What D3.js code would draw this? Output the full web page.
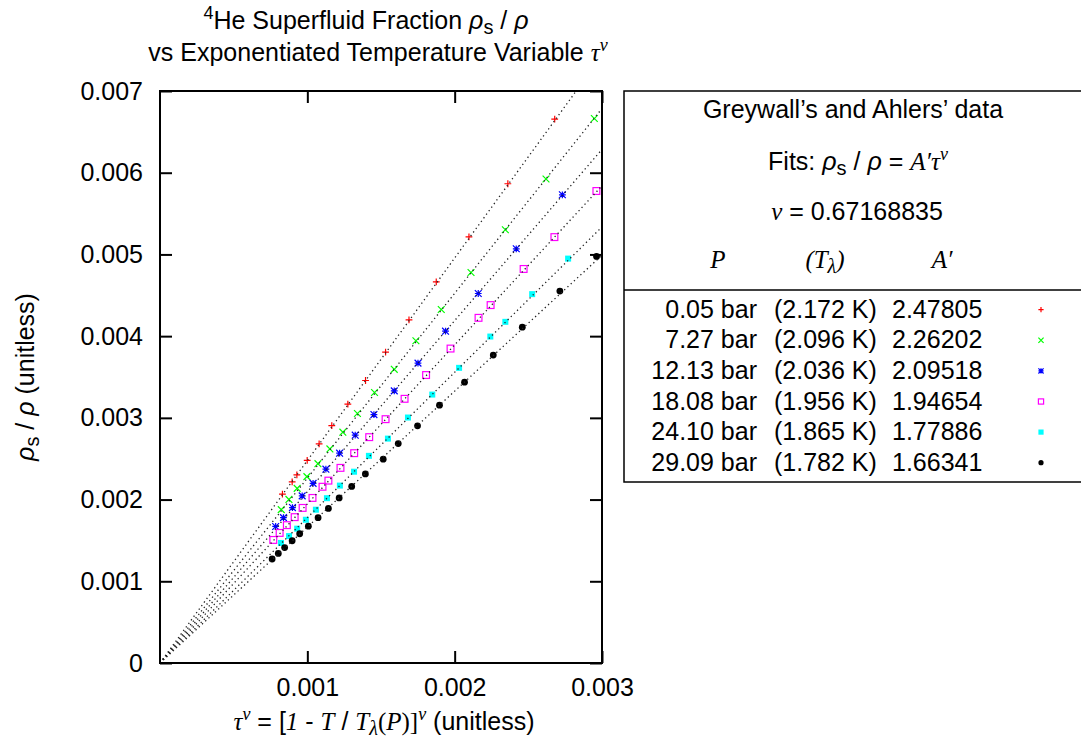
<!DOCTYPE html>
<html><head><meta charset="utf-8">
<script src="https://cdn.jsdelivr.net/npm/d3@7"></script>
<style>
body{margin:0;background:#fff;}
svg{display:block;}
text{font-family:"Liberation Sans",Arial,sans-serif;fill:#000;}
</style></head>
<body>
<script>
// ---- data ----
const pressures = ["0.05 bar","7.27 bar","12.13 bar","18.08 bar","24.10 bar","29.09 bar"];
const tLambdas  = ["(2.172 K)","(2.096 K)","(2.036 K)","(1.956 K)","(1.865 K)","(1.782 K)"];
const aPrimes   = [2.47805, 2.26202, 2.09518, 1.94654, 1.77886, 1.66341];
const seriesColors = ["#ff0000","#00ff00","#0000ff","#ff00ff","#00ffff","#000000"];
const seriesSymbols = ["plus","cross","star","box","fbox","circle"];
const nu = 0.67168835;

const tau0 = [0.002679,0.002361,0.002097,0.001875,0.001690,0.001531,0.001395,0.001275,0.001166,0.001080,0.000999,0.000929,0.000897,0.000831];
const rho0 = [0.006657,0.005865,0.005216,0.004665,0.004200,0.003804,0.003457,0.003168,0.002906,0.002682,0.002480,0.002302,0.002216,0.002066];

const tau1 = [0.002948,0.002620,0.002344,0.002111,0.001909,0.001737,0.001590,0.001456,0.001340,0.001241,0.001153,0.001072,0.000997,0.000931,0.000875,0.000823];
const rho1 = [0.006663,0.005923,0.005302,0.004779,0.004326,0.003943,0.003594,0.003310,0.003053,0.002825,0.002620,0.002439,0.002281,0.002137,0.002002,0.001877];

const tau2 = [0.002731,0.002418,0.002160,0.001938,0.001751,0.001590,0.001452,0.001325,0.001219,0.001126,0.001039,0.000965,0.000899,0.000838,0.000785];
const rho2 = [0.005730,0.005069,0.004522,0.004061,0.003670,0.003330,0.003040,0.002788,0.002568,0.002372,0.002198,0.002045,0.001902,0.001779,0.001671];

const tau3 = [0.002962,0.002677,0.002468,0.002244,0.002162,0.001972,0.001806,0.001660,0.001531,0.001420,0.001318,0.001225,0.001143,0.001103,0.001035,0.000968,0.000914,0.000861,0.000812,0.000769];
const rho3 = [0.005776,0.005212,0.004822,0.004380,0.004224,0.003848,0.003524,0.003233,0.002984,0.002764,0.002568,0.002388,0.002232,0.002157,0.002020,0.001898,0.001785,0.001687,0.001592,0.001506];

const tau4 = [0.002770,0.002526,0.002344,0.002242,0.002030,0.001848,0.001683,0.001547,0.001418,0.001317,0.001221,0.001133,0.001058,0.000990,0.000931,0.000876,0.000821];
const rho4 = [0.004949,0.004514,0.004175,0.003995,0.003612,0.003285,0.003004,0.002746,0.002535,0.002341,0.002171,0.002017,0.001876,0.001753,0.001644,0.001553,0.001469];

const tau5 = [0.002963,0.002714,0.002459,0.002262,0.002067,0.001897,0.001748,0.001617,0.001515,0.001394,0.001301,0.001216,0.001143,0.001073,0.001007,0.000948,0.000897,0.000846,0.000803,0.000761];
const rho5 = [0.004975,0.004551,0.004110,0.003768,0.003437,0.003155,0.002902,0.002685,0.002494,0.002314,0.002161,0.002020,0.001892,0.001779,0.001675,0.001582,0.001496,0.001412,0.001341,0.001273];

const xTicks = [0.001, 0.002, 0.003];
const yTicks = [0, 0.001, 0.002, 0.003, 0.004, 0.005, 0.006, 0.007];

const taus = [tau0,tau1,tau2,tau3,tau4,tau5];
const rhos = [rho0,rho1,rho2,rho3,rho4,rho5];

// ---- layout ----
const W = 1081, H = 745;
const L = 160, R = 602, T = 91, B = 663;
const FS = 25;

const svg = d3.select("body").append("svg").attr("width", W).attr("height", H);

const x = d3.scaleLinear().domain([0, 0.003]).range([L, R]);
const y = d3.scaleLinear().domain([0, 0.007]).range([B, T]);

// rich text helper
function rich(sel, segs, baseSize) {
  let off = 0;
  segs.forEach(s => {
    const t = sel.append("tspan").text(s.t);
    let fs = baseSize, target = 0;
    if (s.sh === "sup") { fs = baseSize * 0.72; target = -baseSize * 0.42; }
    if (s.sh === "sub") { fs = baseSize * 0.8; target = baseSize * 0.2; }
    t.attr("font-size", fs);
    if (target !== off) { t.attr("dy", target - off); off = target; }
    if (s.f === "serif") t.style("font-family", '"Liberation Serif","Times New Roman",serif');
    if (s.i) t.style("font-style", "italic");
  });
  return sel;
}

// clip
svg.append("defs").append("clipPath").attr("id","plotclip")
  .append("rect").attr("x", L).attr("y", T).attr("width", R - L).attr("height", B - T);

// symbols
function drawSymbol(g, type, cx, cy, color, s) {
  const sw = 1.2;
  if (type === "plus") {
    g.append("path").attr("d", `M${cx-s},${cy}H${cx+s}M${cx},${cy-s}V${cy+s}`)
      .attr("stroke", color).attr("stroke-width", sw).attr("fill","none");
  } else if (type === "cross") {
    g.append("path").attr("d", `M${cx-s},${cy-s}L${cx+s},${cy+s}M${cx-s},${cy+s}L${cx+s},${cy-s}`)
      .attr("stroke", color).attr("stroke-width", sw).attr("fill","none");
  } else if (type === "star") {
    g.append("path").attr("d", `M${cx-s},${cy}H${cx+s}M${cx},${cy-s}V${cy+s}M${cx-s},${cy-s}L${cx+s},${cy+s}M${cx-s},${cy+s}L${cx+s},${cy-s}`)
      .attr("stroke", color).attr("stroke-width", sw).attr("fill","none");
  } else if (type === "box") {
    g.append("rect").attr("x", cx-s).attr("y", cy-s).attr("width", 2*s).attr("height", 2*s)
      .attr("stroke", color).attr("stroke-width", sw).attr("fill","none");
  } else if (type === "fbox") {
    g.append("rect").attr("x", cx-s).attr("y", cy-s).attr("width", 2*s).attr("height", 2*s)
      .attr("fill", color);
  } else if (type === "circle") {
    g.append("circle").attr("cx", cx).attr("cy", cy).attr("r", s).attr("fill", color);
  }
}

// points
const pts = svg.append("g").attr("clip-path","url(#plotclip)");
taus.forEach((ts, si) => {
  const gs = pts.append("g");
  ts.forEach((t, i) => {
    const sz = seriesSymbols[si] === "fbox" ? 3 : 3.4;
    drawSymbol(gs, seriesSymbols[si], x(t), y(rhos[si][i]), seriesColors[si], sz);
  });
});

// fit lines (rho_s/rho = A' tau^nu, with tau^nu on the x axis)
const lineGen = d3.line().x(d => x(d[0])).y(d => y(d[1]));
const fits = svg.append("g").attr("clip-path","url(#plotclip)");
aPrimes.forEach(a => {
  fits.append("path")
    .attr("d", lineGen([[0, 0], [0.003, a * 0.003]]))
    .attr("fill","none").attr("stroke","#222").attr("stroke-width",1.3)
    .attr("stroke-dasharray","1.3 3.1");
});

// axes
const fmtY = d => d === 0 ? "0" : d3.format(".3f")(d);
const gx = svg.append("g").attr("transform", `translate(0,${B})`)
  .call(d3.axisBottom(x).tickValues(xTicks).tickFormat(d3.format(".3f")).tickSizeInner(-12).tickSizeOuter(0).tickPadding(15));
const gxt = svg.append("g").attr("transform", `translate(0,${T})`)
  .call(d3.axisTop(x).tickValues(xTicks).tickFormat("").tickSizeInner(-12).tickSizeOuter(0));
const gy = svg.append("g").attr("transform", `translate(${L},0)`)
  .call(d3.axisLeft(y).tickValues(yTicks).tickFormat(fmtY).tickSizeInner(-12).tickSizeOuter(0).tickPadding(17));
const gyr = svg.append("g").attr("transform", `translate(${R},0)`)
  .call(d3.axisRight(y).tickValues(yTicks).tickFormat("").tickSizeInner(-12).tickSizeOuter(0));
[gx,gxt,gy,gyr].forEach(g => {
  g.select(".domain").remove();
  g.selectAll(".tick line").attr("stroke","#000").attr("stroke-width",2);
  g.selectAll(".tick text").attr("font-size", FS).attr("font-family",'"Liberation Sans",Arial,sans-serif').attr("fill","#000");
});

// frame
svg.append("rect").attr("x", L).attr("y", T).attr("width", R - L).attr("height", B - T)
  .attr("fill","none").attr("stroke","#000").attr("stroke-width",2);

// title
rich(svg.append("text").attr("x", 366).attr("y", 29).attr("text-anchor","middle"), [
  {t:"4", sh:"sup"}, {t:"He Superfluid Fraction "}, {t:"ρ", i:true}, {t:"s", sh:"sub"}, {t:" / "}, {t:"ρ", i:true}
], FS);
rich(svg.append("text").attr("x", 378).attr("y", 61).attr("text-anchor","middle"), [
  {t:"vs Exponentiated Temperature Variable "}, {t:"τ", f:"serif", i:true}, {t:"ν", f:"serif", i:true, sh:"sup"}
], FS);

// axis titles
rich(svg.append("text").attr("x", 384).attr("y", 730).attr("text-anchor","middle"), [
  {t:"τ", f:"serif", i:true}, {t:"ν", f:"serif", i:true, sh:"sup"}, {t:" = ["},
  {t:"1", f:"serif", i:true}, {t:" - "}, {t:"T", f:"serif", i:true}, {t:" / "},
  {t:"T", f:"serif", i:true}, {t:"λ", f:"serif", i:true, sh:"sub"}, {t:"(", f:"serif"}, {t:"P", f:"serif", i:true}, {t:")]", f:"serif"},
  {t:"ν", f:"serif", i:true, sh:"sup"}, {t:" (unitless)"}
], FS);
rich(svg.append("text").attr("transform","translate(34,377) rotate(-90)").attr("text-anchor","middle"), [
  {t:"ρ", i:true}, {t:"s", sh:"sub"}, {t:" / "}, {t:"ρ", i:true}, {t:" (unitless)"}
], FS);

// legend
const lg = svg.append("g");
lg.append("rect").attr("x", 624).attr("y", 91).attr("width", 470).attr("height", 391)
  .attr("fill","#fff").attr("stroke","#000").attr("stroke-width",1.5);
lg.append("line").attr("x1", 624).attr("x2", 1090).attr("y1", 290).attr("y2", 290)
  .attr("stroke","#000").attr("stroke-width",1.5);
lg.append("text").attr("x", 853).attr("y", 118).attr("text-anchor","middle").attr("font-size", FS)
  .text("Greywall’s and Ahlers’ data");
rich(lg.append("text").attr("x", 858).attr("y", 170).attr("text-anchor","middle"), [
  {t:"Fits: "}, {t:"ρ", i:true}, {t:"s", sh:"sub"}, {t:" / "}, {t:"ρ", i:true}, {t:" = "},
  {t:"A′τ", f:"serif", i:true}, {t:"ν", f:"serif", i:true, sh:"sup"}
], FS);
rich(lg.append("text").attr("x", 857).attr("y", 220).attr("text-anchor","middle"), [
  {t:"ν", f:"serif", i:true}, {t:" = " + nu.toFixed(8)}
], FS);
rich(lg.append("text").attr("x", 718).attr("y", 268).attr("text-anchor","middle"), [{t:"P", f:"serif", i:true}], FS);
rich(lg.append("text").attr("x", 825).attr("y", 268).attr("text-anchor","middle"), [
  {t:"(", f:"serif", i:true}, {t:"T", f:"serif", i:true}, {t:"λ", f:"serif", i:true, sh:"sub"}, {t:")", f:"serif", i:true}
], FS);
rich(lg.append("text").attr("x", 942).attr("y", 268).attr("text-anchor","middle"), [{t:"A′", f:"serif", i:true}], FS);

pressures.forEach((p, i) => {
  const by = 317.7 + i * 30.6;
  lg.append("text").attr("x", 757).attr("y", by).attr("text-anchor","end").attr("font-size", FS).text(p);
  lg.append("text").attr("x", 774).attr("y", by).attr("font-size", FS).text(tLambdas[i]);
  lg.append("text").attr("x", 892).attr("y", by).attr("font-size", FS).text(aPrimes[i].toFixed(5));
  drawSymbol(lg, seriesSymbols[i], 1041, by - 8, seriesColors[i], 2.6);
});
</script>
</body></html>
